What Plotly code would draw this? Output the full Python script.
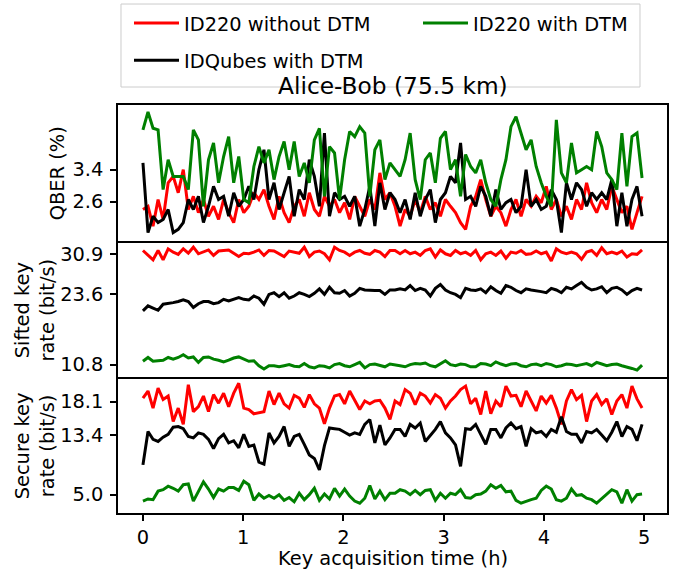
import plotly.graph_objects as go
from plotly.subplots import make_subplots

# time axis (h): 100 regularly spaced samples over the 5 h acquisition
hours = [round(4.98 * i / 99, 4) for i in range(100)]

qber_id220_no_dtm = [
    2.40, 2.48, 1.98, 2.65, 2.15, 3.07, 3.23, 2.82, 3.40, 2.40,
    2.73, 2.32, 2.65, 2.23, 2.48, 2.15, 2.65, 2.32, 2.07, 2.65,
    2.32, 2.48, 2.82, 2.65, 2.90, 2.48, 2.15, 2.73, 2.32, 2.07,
    2.48, 2.65, 2.23, 2.82, 2.40, 2.23, 2.73, 2.48, 2.65, 2.32,
    2.57, 2.15, 2.73, 2.48, 2.23, 2.65, 2.40, 3.32, 2.65, 2.82,
    2.48, 1.98, 2.40, 2.23, 2.65, 2.32, 2.73, 2.40, 2.57, 2.23,
    2.65, 2.48, 2.32, 2.07, 1.90, 2.48, 2.73, 3.15, 2.65, 2.23,
    2.48, 2.32, 1.98, 2.40, 2.65, 2.23, 2.65, 2.48, 2.73, 2.57,
    2.98, 2.40, 2.65, 2.23, 2.48, 2.15, 2.65, 2.40, 3.07, 2.57,
    2.32, 2.65, 2.40, 2.98, 2.65, 2.32, 2.48, 1.90, 2.32, 2.73]
qber_idqubes_dtm = [
    3.57, 1.82, 2.23, 2.07, 2.15, 2.40, 1.82, 1.90, 2.07, 2.65,
    2.40, 2.73, 2.07, 2.48, 2.98, 2.65, 2.73, 2.23, 2.82, 2.48,
    2.65, 2.98, 2.65, 3.40, 3.90, 2.65, 3.07, 2.40, 2.82, 3.23,
    2.23, 2.90, 2.65, 3.65, 3.23, 2.48, 4.32, 2.23, 2.82, 2.65,
    2.73, 2.48, 2.73, 1.98, 2.40, 2.98, 1.98, 3.07, 2.40, 2.82,
    2.65, 2.32, 2.65, 2.15, 2.82, 2.23, 2.65, 2.90, 2.07, 2.65,
    2.82, 3.23, 3.07, 4.07, 2.65, 2.73, 2.48, 2.98, 2.73, 2.23,
    2.90, 2.40, 2.57, 2.65, 2.32, 2.48, 3.40, 2.48, 2.65, 2.40,
    2.48, 2.90, 2.65, 1.82, 3.07, 2.65, 3.07, 2.90, 2.48, 2.82,
    2.65, 2.82, 2.65, 3.15, 1.98, 2.82, 1.98, 2.65, 2.98, 2.23]
qber_id220_dtm = [
    4.40, 4.85, 4.44, 4.40, 2.90, 3.65, 3.23, 3.23, 3.23, 2.90,
    4.40, 4.15, 2.48, 3.65, 4.07, 3.07, 3.73, 4.23, 3.07, 3.73,
    2.65, 2.57, 3.48, 3.98, 3.57, 3.90, 3.15, 3.73, 4.11, 3.40,
    4.11, 3.23, 3.57, 3.07, 4.15, 4.44, 2.73, 3.98, 3.82, 2.65,
    3.65, 4.36, 4.23, 4.48, 4.32, 2.73, 3.90, 4.15, 3.15, 3.57,
    3.40, 3.23, 3.65, 4.32, 3.15, 2.65, 3.65, 3.82, 3.07, 4.19,
    4.36, 3.40, 3.65, 2.73, 3.78, 3.48, 3.32, 3.65, 3.07, 2.65,
    2.48, 3.15, 3.65, 4.48, 4.73, 4.32, 3.90, 4.15, 3.48, 3.07,
    2.73, 2.48, 4.65, 3.32, 3.07, 4.07, 3.32, 3.40, 3.48, 3.40,
    4.36, 3.98, 3.32, 3.15, 2.90, 4.32, 2.98, 4.23, 4.32, 3.19]

sifted_id220_no_dtm = [
    31.6, 30.7, 29.9, 31.6, 29.9, 31.9, 31.3, 30.9, 31.9, 31.1,
    32.2, 31.0, 31.3, 31.7, 30.7, 31.5, 31.6, 31.7, 31.1, 30.5,
    31.1, 31.0, 31.3, 31.7, 30.7, 31.6, 31.5, 31.0, 30.5, 31.5,
    31.3, 31.1, 32.2, 30.5, 31.3, 31.5, 31.0, 29.9, 32.2, 31.6,
    31.3, 30.7, 31.3, 31.6, 31.1, 30.9, 31.6, 31.3, 30.5, 31.6,
    31.6, 31.0, 31.6, 31.0, 31.3, 30.7, 31.6, 31.9, 30.4, 31.7,
    31.0, 30.7, 31.6, 31.0, 31.3, 30.7, 31.6, 29.9, 31.0, 31.3,
    30.7, 31.5, 30.2, 31.3, 31.1, 31.6, 30.9, 31.0, 31.5, 31.0,
    31.3, 29.7, 31.9, 31.3, 31.0, 31.3, 31.0, 30.0, 31.3, 31.6,
    30.7, 32.1, 31.0, 31.3, 31.0, 31.5, 30.4, 31.0, 30.9, 31.7]
sifted_idqubes_dtm = [
    20.6, 21.5, 21.1, 20.7, 21.8, 21.9, 22.1, 22.3, 22.6, 22.3,
    21.2, 21.9, 22.3, 22.3, 21.9, 22.1, 22.7, 22.4, 22.7, 23.0,
    22.7, 22.6, 23.3, 22.9, 21.8, 23.6, 23.9, 23.2, 23.9, 22.9,
    23.3, 23.9, 23.6, 23.2, 23.8, 24.6, 23.6, 24.9, 23.9, 23.8,
    24.3, 23.3, 23.8, 24.7, 24.4, 24.3, 24.3, 24.3, 23.6, 24.4,
    24.4, 24.6, 24.4, 25.2, 24.3, 24.7, 24.4, 23.3, 24.7, 25.4,
    24.4, 23.9, 23.6, 23.0, 24.7, 24.4, 24.3, 24.6, 23.9, 25.0,
    24.3, 23.8, 25.2, 24.9, 24.3, 23.9, 24.6, 24.4, 24.3, 24.1,
    23.9, 24.7, 24.4, 23.9, 24.9, 24.6, 25.2, 25.8, 24.9, 24.4,
    24.6, 25.0, 23.9, 24.7, 24.9, 24.4, 23.6, 24.3, 24.7, 24.4]
sifted_id220_dtm = [
    11.4, 12.1, 11.4, 11.5, 11.6, 12.1, 11.8, 12.1, 12.6, 12.0,
    12.2, 11.2, 12.1, 12.2, 11.8, 11.6, 11.3, 11.6, 12.0, 12.2,
    11.8, 11.4, 11.5, 10.6, 10.0, 10.6, 10.6, 10.4, 10.6, 10.8,
    10.5, 10.4, 11.0, 10.4, 10.2, 10.6, 10.5, 10.2, 10.8, 11.0,
    10.6, 10.4, 10.8, 11.2, 10.2, 10.8, 10.9, 10.6, 10.4, 10.9,
    10.8, 10.6, 10.4, 10.8, 11.0, 10.9, 11.1, 10.6, 10.4, 11.0,
    11.5, 10.8, 10.6, 10.9, 10.8, 10.4, 10.4, 11.0, 10.9, 10.6,
    11.3, 10.9, 10.6, 10.9, 11.0, 10.6, 10.4, 10.8, 10.9, 10.6,
    11.0, 10.8, 10.4, 10.6, 10.9, 10.8, 10.6, 10.8, 11.0, 10.6,
    11.2, 10.9, 10.6, 10.8, 10.9, 10.6, 10.4, 10.1, 9.8, 10.7]

secure_id220_no_dtm = [
    18.6, 19.6, 17.2, 20.0, 18.4, 18.9, 15.3, 17.2, 14.9, 20.5,
    16.7, 17.4, 18.9, 16.7, 19.1, 17.9, 19.3, 17.4, 19.3, 20.7,
    17.2, 17.0, 16.4, 16.5, 16.7, 19.6, 17.7, 19.3, 17.8, 17.2,
    19.0, 18.6, 17.3, 19.1, 17.8, 17.2, 15.0, 17.2, 18.9, 19.1,
    17.8, 19.6, 18.4, 17.0, 18.2, 17.8, 18.2, 18.3, 17.2, 15.6,
    18.2, 17.7, 19.8, 19.3, 17.7, 19.3, 18.9, 17.9, 19.1, 18.6,
    17.2, 18.2, 18.9, 19.8, 20.3, 17.8, 18.6, 16.3, 19.6, 16.4,
    18.2, 17.4, 20.3, 18.9, 19.0, 17.4, 19.6, 18.2, 16.8, 18.9,
    17.9, 19.0, 17.2, 14.9, 18.2, 19.8, 18.4, 19.0, 15.3, 18.2,
    19.1, 17.7, 18.5, 16.3, 18.2, 19.1, 17.2, 20.3, 18.5, 17.2]
secure_idqubes_dtm = [
    9.2, 13.9, 12.8, 12.5, 13.1, 13.5, 14.5, 14.6, 14.3, 13.2,
    13.0, 13.7, 13.5, 12.8, 11.5, 12.9, 13.5, 12.3, 12.6, 11.6,
    13.5, 11.8, 12.0, 9.6, 9.3, 13.7, 12.3, 13.2, 14.6, 11.8,
    13.2, 13.5, 12.1, 10.6, 10.1, 8.5, 11.9, 14.4, 14.3, 14.2,
    13.8, 13.4, 13.7, 13.5, 14.9, 15.6, 12.3, 14.8, 12.0, 13.0,
    14.2, 14.2, 13.2, 14.9, 14.4, 15.1, 12.5, 13.4, 14.2, 15.3,
    13.7, 13.0, 12.0, 9.0, 14.3, 14.2, 14.9, 13.5, 12.1, 14.2,
    14.2, 13.0, 14.4, 15.1, 14.3, 14.6, 11.8, 14.3, 13.7, 13.9,
    13.2, 14.2, 13.8, 16.0, 13.9, 13.5, 13.5, 12.3, 13.9, 13.7,
    14.2, 13.4, 12.6, 13.8, 15.3, 13.2, 14.6, 14.2, 12.6, 14.9]
secure_id220_dtm = [
    4.1, 4.4, 4.3, 5.5, 5.7, 6.2, 5.9, 5.5, 6.4, 6.5,
    4.1, 5.5, 6.8, 5.8, 4.6, 5.8, 5.5, 6.0, 6.0, 5.6,
    6.9, 6.4, 4.2, 5.1, 4.5, 4.9, 4.5, 5.0, 4.2, 4.6,
    4.0, 5.2, 4.3, 5.0, 5.9, 4.2, 5.1, 4.4, 5.9, 4.8,
    5.8, 4.8, 4.1, 3.8, 4.5, 6.3, 4.4, 5.5, 4.3, 5.2,
    5.2, 5.7, 5.5, 5.0, 5.6, 5.0, 5.6, 5.7, 4.2, 5.2,
    4.5, 5.2, 5.0, 5.7, 4.6, 4.5, 5.0, 5.1, 5.5, 6.4,
    5.9, 6.3, 5.4, 5.5, 4.2, 3.8, 4.1, 4.3, 4.5, 5.6,
    6.2, 5.8, 4.3, 4.1, 4.5, 5.8, 4.9, 5.0, 4.5, 4.3,
    3.8, 4.4, 5.1, 5.7, 5.4, 3.8, 5.7, 4.1, 5.0, 5.1]

series_names = ["ID220 without DTM", "IDQubes with DTM", "ID220 with DTM"]
series_colors = ["#ff0000", "#000000", "#008000"]

qber_ticks = [2.6, 3.4]
sifted_ticks = [10.8, 23.6, 30.9]
secure_ticks = [5.0, 13.4, 18.1]
x_ticks = [0, 1, 2, 3, 4, 5]

FONT = "DejaVu Sans"
FS = 19.4

fig = make_subplots(rows=3, cols=1, shared_xaxes=True, vertical_spacing=0)

panels = [
    [qber_id220_no_dtm, qber_idqubes_dtm, qber_id220_dtm],
    [sifted_id220_no_dtm, sifted_idqubes_dtm, sifted_id220_dtm],
    [secure_id220_no_dtm, secure_idqubes_dtm, secure_id220_dtm],
]
legend_ids = ["legend", "legend", "legend2"]
groups = ["g1", "g2", "g3"]
for r, vals in enumerate(panels, start=1):
    for k in range(3):
        fig.add_trace(go.Scatter(
            x=hours, y=vals[k], mode="lines", name=series_names[k],
            line=dict(color=series_colors[k], width=3),
            showlegend=(r == 1), legend=legend_ids[k], legendgroup=groups[k]),
            row=r, col=1)

axis_common = dict(showline=True, linecolor="black", linewidth=1.5,
                   showgrid=False, zeroline=False, ticks="outside", ticklen=6,
                   tickwidth=1.5, tickcolor="black", automargin=False,
                   tickfont=dict(family=FONT, size=FS, color="black"))

for r in (1, 2, 3):
    fig.update_xaxes(range=[-0.249, 5.229], tickvals=x_ticks, row=r, col=1,
                     ticklabelstandoff=0, mirror=(r == 1), **axis_common)
fig.update_xaxes(showticklabels=False, ticks="", row=1, col=1)
fig.update_xaxes(showticklabels=False, ticks="", row=2, col=1)

fig.update_yaxes(range=[1.6075, 5.025], tickvals=qber_ticks, tickformat=".1f",
                 ticklabelstandoff=3, mirror=True, row=1, col=1, **axis_common)
fig.update_yaxes(range=[8.54, 33.33], tickvals=sifted_ticks, tickformat=".1f",
                 ticklabelstandoff=3, mirror=True, row=2, col=1, **axis_common)
fig.update_yaxes(range=[2.42, 21.58], tickvals=secure_ticks, tickformat=".1f",
                 ticklabelstandoff=3, mirror=True, row=3, col=1, **axis_common)

def txt(text, x, y, size=FS, angle=0):
    return dict(text=text, x=x, y=y, xref="paper", yref="paper", showarrow=False,
                xanchor="center", yanchor="middle", textangle=angle, align="center",
                font=dict(family=FONT, size=size, color="black"))

fig.update_layout(
    width=677, height=571,
    margin=dict(l=118, r=10, t=105, b=58, autoexpand=False),
    paper_bgcolor="white", plot_bgcolor="white",
    font=dict(family=FONT, size=FS, color="black"),
    legend=dict(x=129 / 677, y=1 - 4 / 571, xref="container", yref="container",
                xanchor="left", yanchor="top",
                bgcolor="rgba(0,0,0,0)", borderwidth=0, itemwidth=45,
                traceorder="grouped", tracegroupgap=9,
                font=dict(family=FONT, size=FS, color="black")),
    legend2=dict(x=418 / 677, y=1 - 4 / 571, xref="container", yref="container",
                 xanchor="left", yanchor="top",
                 bgcolor="rgba(0,0,0,0)", borderwidth=0, itemwidth=45,
                 font=dict(family=FONT, size=FS, color="black")),
    shapes=[dict(type="rect", xref="paper", yref="paper",
                 x0=0.00546, x1=0.9508, y0=1.0441, y1=1.2475,
                 line=dict(color="#cccccc", width=1), fillcolor="rgba(255,255,255,0)",
                 layer="below")],
    annotations=[
        txt("Alice-Bob (75.5 km)", 0.5, 1.0478, size=23.3),
        txt("Key acquisition time (h)", 0.5, -0.1115),
        txt("QBER (%)", -0.1111, 0.8326, angle=-90),
        txt("Sifted key<br>rate (bit/s)", -0.1512, 0.4988, angle=-90),
        txt("Secure key<br>rate (bit/s)", -0.1512, 0.1659, angle=-90),
    ],
)

fig.write_html("out.html", config={"displayModeBar": False},
               post_script="document.body.style.margin='0px';")
